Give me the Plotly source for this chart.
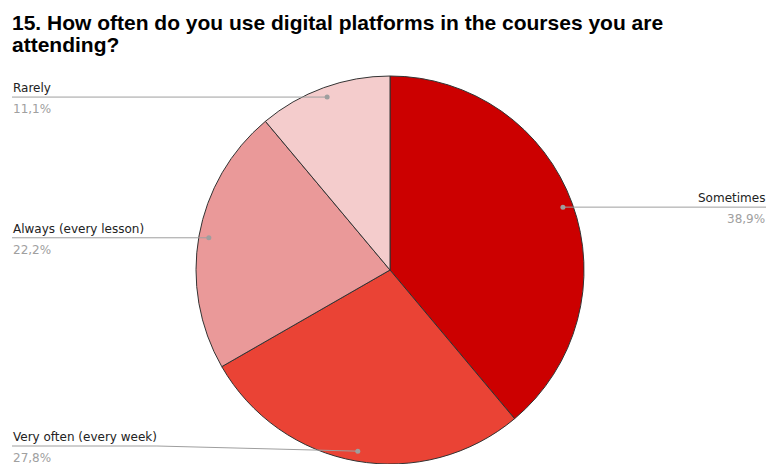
import math
import plotly.graph_objects as go

# Survey answers, in clockwise order from 12 o'clock
categories = ["Sometimes", "Very often (every week)", "Always (every lesson)", "Rarely"]
shares = [38.9, 27.8, 22.2, 11.1]
colors = ["#cc0000", "#ea4335", "#ea9999", "#f4cccc"]
title_lines = ["15. How often do you use digital platforms in the courses you are", "attending?"]

W, H = 768, 464
CX, CY, R = 390, 270, 194          # pie centre and radius in pixels
ANCHOR_R = R - 10                  # where the leader lines end inside a slice
LEFT_X, RIGHT_X = 12, 766
LINE_COLOR = "#9e9e9e"


def px(x):
    return x / W


def py(y):
    return 1 - y / H


fig = go.Figure()
fig.add_trace(go.Pie(
    labels=categories,
    values=shares,
    sort=False,
    direction="clockwise",
    rotation=0,
    marker=dict(colors=colors, line=dict(color="#333333", width=1)),
    textinfo="none",
    hoverinfo="label+percent",
    showlegend=False,
    domain=dict(x=[px(CX - R), px(CX + R)], y=[py(CY + R), py(CY - R)]),
))

shapes = []
annotations = []
for i, line in enumerate(title_lines):
    annotations.append(dict(
        text=line, x=px(11), y=py(22.5 + 22 * i), xref="paper", yref="paper",
        xanchor="left", yanchor="middle", align="left", showarrow=False, borderpad=0,
        font=dict(family="Liberation Sans, Arial", size=21, color="#000000", weight="bold"),
    ))

total = sum(shares)
cum = 0.0
for name, val in zip(categories, shares):
    mid = (cum + val / 2) / total * 2 * math.pi
    cum += val
    ax = CX + ANCHOR_R * math.sin(mid)
    ay = CY - ANCHOR_R * math.cos(mid)
    ly = min(ay, H - 18)            # label line height, kept above the bottom edge
    pct = f"{val:.1f}".replace(".", ",") + "%"
    right = math.sin(mid) > 0
    if right:
        tx, anchor = RIGHT_X, "right"
        path = f"M {px(ax)},{py(ay)} L {px(RIGHT_X)},{py(ly)}"
    else:
        tx, anchor = LEFT_X, "left"
        if abs(ly - ay) > 0.5:
            knee = LEFT_X + 6.3 * len(name)
            path = f"M {px(LEFT_X)},{py(ly)} L {px(knee)},{py(ly)} L {px(ax)},{py(ay)}"
        else:
            path = f"M {px(LEFT_X)},{py(ly)} L {px(ax)},{py(ay)}"
    shapes.append(dict(type="path", path=path, xref="paper", yref="paper",
                       line=dict(color=LINE_COLOR, width=1), layer="above"))
    dr = 2.5
    shapes.append(dict(type="circle", xref="paper", yref="paper",
                       x0=px(ax - dr), x1=px(ax + dr), y0=py(ay + dr), y1=py(ay - dr),
                       fillcolor=LINE_COLOR, line=dict(width=0), layer="above"))
    annotations.append(dict(
        text=name, x=px(tx), y=py(ly - 9), xref="paper", yref="paper",
        xanchor=anchor, yanchor="middle", showarrow=False, borderpad=0,
        font=dict(family="DejaVu Sans", size=12, color="#222222"),
    ))
    annotations.append(dict(
        text=pct, x=px(tx), y=py(ly + 12), xref="paper", yref="paper",
        xanchor=anchor, yanchor="middle", showarrow=False, borderpad=0,
        font=dict(family="DejaVu Sans", size=12, color="#a0a0a0"),
    ))

fig.update_layout(
    width=W, height=H,
    margin=dict(l=0, r=0, t=0, b=0),
    paper_bgcolor="#ffffff",
    plot_bgcolor="#ffffff",
    shapes=shapes,
    annotations=annotations,
)

fig.write_html("out.html")
